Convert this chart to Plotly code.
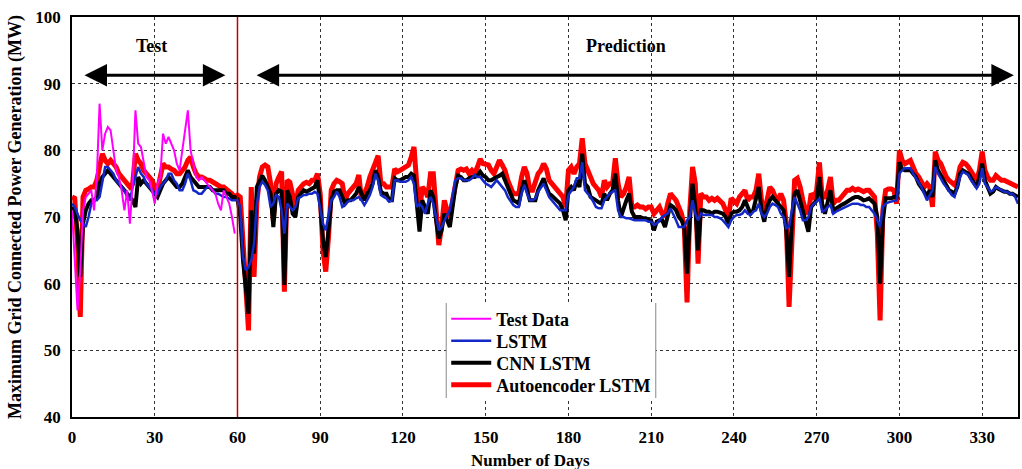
import plotly.graph_objects as go

# ---------------- data ----------------
test_data = [
    71, 64, 56, 62, 71, 73, 73.5, 74, 71, 76,
    87, 80, 82.5, 83.5, 83, 80, 77, 76, 74, 71,
    74, 69, 75, 86, 81, 80.5, 78, 76, 75.5, 74,
    72, 75, 76, 82.5, 81, 82, 81, 80, 78, 77,
    80, 83, 86, 80, 78, 76, 75.5, 76, 75.5, 75,
    74.5, 74, 73.5, 72, 71, 74, 73, 72, 70, 67.5,
]

lstm = [
    72, 71.5, 70.5, 69.5, 69, 68.5, 70, 72, 72.5, 72.5,
    73, 75, 77.5, 77.5, 77, 76.5, 75.5, 75, 74.5, 74,
    73, 72.5, 74.5, 76, 77.5, 76.5, 76, 75, 74.5, 74,
    73.5, 73.5, 74.5, 75, 75.5, 76.5, 76.5, 75.5, 75, 74,
    74, 75, 76.5, 75.5, 74, 73.8, 73.5, 73.5, 74, 74.5,
    74.5, 74, 73.5, 73.5, 73.2, 73, 73, 72.8, 72.5, 72.5,
    72.5, 71.5, 64, 62, 62.5, 63.5, 66, 72, 74.5, 75.3,
    74.8, 74, 71.5, 72, 73.3, 73, 71, 67.5, 72, 71.5,
    71, 71.5, 72.8, 73, 73.3, 73.3, 73.5, 73.5, 73.8, 73.5,
    71.5, 69, 68, 70, 72.5, 73, 73.8, 73, 71.5, 71.8,
    72.3, 72.5, 72.5, 72.8, 73, 72.5, 71.8, 72.5, 73.3, 74.5,
    76.5, 75.5, 73.3, 73, 72.8, 72.3, 72.5, 75.5, 75.5, 75.3,
    75.3, 75.3, 75.5, 76, 75, 71.5, 72, 71.5, 70.5, 72,
    73, 72, 70, 68, 68.5, 69.5, 70.3, 71, 73.5, 75.5,
    75.8, 75.8, 75.5, 75.5, 75.5, 75.8, 76.3, 76, 76, 75.5,
    75, 74.8, 74.5, 75, 75.5, 75, 74.5, 74, 73, 72.3,
    71.8, 71.5, 71.5, 73.5, 74.8, 73.5, 72.5, 72.5, 72.8, 73.8,
    74.5, 75, 74, 73, 72.5, 72, 71.5, 71, 71, 71,
    73.3, 74, 74.5, 75.8, 75.8, 78.2, 74, 73.5, 73, 72.3,
    71.5, 71.3, 71.3, 72.5, 73, 73.5, 73.8, 74, 71, 70,
    70, 69.8, 69.8, 69.6, 69.5, 69.5, 69.5, 69.5, 69.5, 69.3,
    69.3, 68.8, 69, 69.5, 70, 70.3, 70.5, 71.3, 70.5, 69.5,
    68.5, 68.5, 68.5, 69.5, 70, 72.5, 70.5, 69.5, 70.5, 70.3,
    70.3, 70.3, 70.3, 70, 70, 69.8, 69.5, 69, 68.5, 69.5,
    70, 70.3, 70.3, 70.5, 71, 70.5, 70.3, 70.8, 71, 72,
    70.5, 70, 70.5, 71.5, 72, 71.8, 71.5, 70.5, 70, 68.3,
    68.5, 71, 73, 72, 71, 69.5, 69.5, 70, 71.5, 72,
    72.3, 72.8, 70.8, 71, 71.5, 71.8, 70.5, 70.8, 71, 71.2,
    71.3, 71.5, 71.8, 72, 72, 72, 71.8, 71.8, 71.5, 71.5,
    71, 70.5, 69.5, 68.5, 71.5, 72, 72.2, 72.3, 72.5, 72.5,
    76.5, 77, 77.3, 77.3, 77.3, 76.5, 75.8, 75, 74.5, 73.5,
    72.5, 73.3, 74, 77.5, 76.5, 75.8, 75, 74.5, 73.8, 73.3,
    73, 74.5, 76, 76.8, 76.5, 76.3, 75.5, 74.8, 74.3, 75,
    77.3, 75, 74.5, 73.8, 74, 74.5, 74.3, 74, 73.8, 73.8,
    73.5, 73.5, 73, 72,
]

cnn_lstm = [
    71.5, 71, 68, 61, 69, 71, 72, 72.5, 72.5, 73,
    75, 76, 76.5, 77, 76.5, 76, 75.5, 75, 74.5, 74,
    73.5, 73, 72.5, 71.5, 76, 75, 75.5, 75, 74.5, 74,
    73.5, 73, 74, 75, 75.5, 76, 75.5, 75, 74.5, 74.5,
    75, 76, 77, 76, 75.5, 75, 74.5, 74.5, 74.5, 74.5,
    74.5, 74, 74, 74, 74, 74, 73.5, 73.5, 73, 73,
    72.7, 70, 63.5, 59, 55.5, 71, 64.5, 74.5, 75.5, 76.2,
    75.5, 74.5, 73.5, 68.5, 73.5, 74, 73.8, 59.8, 74, 73,
    70.5, 70, 73, 73.5, 74, 73.8, 74, 74.2, 74.5, 75.5,
    72, 66.5, 64, 68, 72.5, 73.8, 74, 74, 73, 72,
    72.5, 72.5, 73, 73.5, 74.5, 73.5, 72.5, 73.5, 74, 75,
    77, 76, 73.8, 73.5, 73.5, 72.5, 72.5, 75.8, 75.5, 75.5,
    75.8, 76, 76, 76.5, 76.2, 72, 67.8, 72.5, 71.5, 70.5,
    74, 73, 69.5, 66.8, 68, 70.5, 69.5, 68.5, 71.5, 74.5,
    76.2, 76, 75.5, 75.5, 75.8, 76, 76, 76.2, 76.8, 76.2,
    76, 75.5, 75.5, 75.8, 76, 76.2, 76.5, 75.5, 74.5, 73.5,
    72.5, 72.3, 72, 74, 75.5, 74, 72.5, 72.5, 72.5, 74,
    75, 75.8, 74.5, 73.5, 73.2, 72.8, 72.5, 72, 71, 69.5,
    74, 74.5, 74, 75.5, 74.5, 79.5, 75, 74.5, 73, 72.8,
    72.5, 72.2, 72, 73.5, 72.5, 73.5, 74, 76.5, 72.5, 70,
    71.5, 72.5, 73.5, 70.8, 70, 70, 70, 69.8, 69.8, 69.6,
    69.5, 68, 69.3, 69.5, 69.5, 68.5, 70.3, 71.8, 71.5, 71,
    70, 69.5, 68.5, 61.5, 69.5, 75, 71.5, 65, 71, 71,
    70.8, 70.8, 70.5, 70.8, 70.8, 70.6, 70.5, 70, 69, 70.5,
    70.8, 70.8, 71, 71.5, 72.5, 71.5, 70.5, 71, 72.5, 74.5,
    71, 69.3, 71.5, 72.5, 73, 72.5, 72, 71.5, 71, 68,
    61, 69.5, 73.5, 74, 72.5, 71, 69.5, 67.8, 71.5, 72,
    72.5, 76, 72, 70.5, 72.5, 74, 71, 71.3, 71.5, 71.8,
    72, 72.3, 72.5, 72.8, 73, 73, 72.8, 72.5, 72.6, 72.8,
    72.4, 72, 70, 60, 69.5, 72.8, 72.8, 72.8, 73, 73,
    78.2, 77.2, 77, 77, 77, 76.5, 76, 75, 74.5, 73.8,
    73.2, 74, 73, 78.5, 77, 76.2, 75.5, 74.8, 74, 73.8,
    73.5, 74.5, 76.5, 77, 76.8, 76.5, 75.8, 75, 74.5, 76,
    78, 75.5, 74.5, 73.5, 73.8, 74.5, 74.2, 74, 73.8, 73.8,
    73.5, 73.5, 73.2, 73,
]

autoencoder_lstm = [
    73, 72.8, 66, 55, 73, 74, 74.2, 74.5, 74.5, 75.5,
    77.5, 79.5, 78.5, 78, 78.5, 78, 77.5, 76.5, 76, 75.5,
    75, 74.5, 75, 79.5, 78.5, 78, 77, 76.5, 76, 75.5,
    74.5, 74, 76, 78, 77.5, 77.5, 77.2, 77, 76.5, 76.5,
    77, 77.5, 78.5, 79, 77.5, 76.5, 76, 76, 75.8, 75.5,
    75.5, 75.2, 75, 74.8, 74.5, 74.5, 74.2, 74, 73.5, 73,
    73.3, 73, 65.5, 59, 53, 74.5, 61, 72, 76, 77.5,
    77.8, 77.5, 75, 69.5, 75, 76, 76.8, 58.8, 75.5, 75.2,
    73, 71.5, 74, 74.5, 75, 75.2, 75, 75.5, 75.5, 76.5,
    73.5, 65, 61.8, 67, 74, 75, 75.5, 75.3, 75, 72.5,
    73.5, 74, 74.5, 75, 76.3, 72.5, 73.5, 74.5, 76, 77,
    78, 79.2, 75, 75, 74.5, 74.5, 74.5, 77.2, 76.8, 77,
    77.2, 77.5, 77.8, 79, 80.5, 75, 70.5, 74.5, 74, 73,
    76.5, 76.5, 72, 65.8, 68.5, 72.5, 71, 70, 72.5, 75,
    77, 77.2, 77, 77.2, 76.5, 77, 76.5, 77.5, 78.7, 78,
    77.8, 77.8, 77, 76.5, 77.5, 78.5, 77.8, 77, 75.5, 74.5,
    73.5, 73.5, 73.5, 76, 77.5, 76.5, 74, 74, 75.5, 76.5,
    77, 78, 77.2, 75.5, 75, 74.5, 74, 73.5, 73, 71.5,
    77, 77.5, 76.5, 77.5, 78, 81.8, 78, 77, 76, 75,
    74.5, 74, 73, 75.5, 74.5, 75, 75, 78.8, 75, 73,
    73.5, 74.5, 76, 71.5, 71.5, 71.8, 71.5, 71.5, 71.2, 71.5,
    71.5, 70.5, 71, 71.5, 70.5, 70, 72, 73.5, 73, 72.5,
    71.5, 70.5, 68.5, 57.2, 71, 77.5, 75, 63, 73.5, 73,
    73, 72.5, 72.8, 72.5, 72.8, 72.5, 72, 71, 70, 72.8,
    72.5, 72, 73, 73.5, 74, 72.5, 73, 73, 74, 76.5,
    72.5, 70.5, 73, 74.5, 74, 73, 72.5, 73.5, 72.5, 69,
    56.5, 68, 75.5, 75.8, 74.5, 72.5, 71, 70.5, 73.5, 73,
    74, 78.2, 73, 73, 74, 76, 72, 72.5, 72.5, 73,
    73.5, 74, 74, 74.3, 74, 74.2, 74, 73.8, 74, 74,
    73.5, 73, 67.5, 54.5, 71, 74, 74.2, 74.2, 74, 72,
    80, 78.5, 78, 78.2, 78.5, 77.5, 76.5, 76, 75.2, 74.5,
    75, 74.5, 71.5, 79.8, 78.5, 78, 77, 76, 75.5, 75.2,
    74.8, 75.5, 77.5, 78.2, 78, 77.5, 76.8, 76, 75.5, 77,
    79.8, 77, 76, 75.5, 75.5, 76.2, 75.8, 75.5, 75.5, 75.3,
    75, 75, 74.8, 74.5,
]

x_ticks = [0, 30, 60, 90, 120, 150, 180, 210, 240, 270, 300, 330]
y_ticks = [40, 50, 60, 70, 80, 90, 100]
split_day = 60

FONT = "Liberation Serif"

# plot-area geometry in pixels (used only for paper-coordinate placement)
L, R, T, B = 72, 1020, 17, 417
def px_x(p):
    return (p - L) / (R - L)
def px_y(p):
    return (B - p) / (B - T)

fig = go.Figure()

# legend background box (white, gray side borders)
fig.add_shape(type="rect", xref="paper", yref="paper",
              x0=px_x(447), x1=px_x(657), y0=px_y(398), y1=px_y(303),
              fillcolor="white", line=dict(width=0), layer="above")
for p in [447, 657]:
    fig.add_shape(type="line", xref="paper", yref="paper", x0=px_x(p), x1=px_x(p),
                  y0=px_y(398), y1=px_y(303), line=dict(color="#888888", width=1),
                  layer="above")

series = [
    ("Autoencoder LSTM", autoencoder_lstm, "#ff0000", 5, "legend4"),
    ("CNN LSTM", cnn_lstm, "#000000", 4, "legend3"),
    ("LSTM", lstm, "#1428c8", 2.5, "legend2"),
    ("Test Data", test_data, "#ff00ff", 2, "legend"),
]
for name, vals, col, w, lg in series:
    fig.add_trace(go.Scatter(
        x=list(range(len(vals))), y=vals, mode="lines", name=name,
        line=dict(color=col, width=w), legend=lg,
    ))

# vertical split line
fig.add_shape(type="line", x0=split_day, x1=split_day, y0=40, y1=100,
              xref="x", yref="y", line=dict(color="#c00000", width=1.5))

# double-headed arrows
for x0, x1 in [(4, 55.6), (66.4, 341.5)]:
    fig.add_annotation(x=x1, y=91.25, ax=x0, ay=91.25, xref="x", yref="y",
                       axref="x", ayref="y", text="", showarrow=True,
                       arrowhead=2, arrowside="end+start", arrowwidth=3,
                       arrowsize=1.5, arrowcolor="black", standoff=0, startstandoff=0)

fig.add_annotation(x=29, y=95.6, text="<b>Test</b>", showarrow=False,
                   xref="x", yref="y", font=dict(family=FONT, size=18, color="black"))
fig.add_annotation(x=201, y=95.6, text="<b>Prediction</b>", showarrow=False,
                   xref="x", yref="y", font=dict(family=FONT, size=18, color="black"))

# x-axis title
fig.add_annotation(x=px_x(531), y=px_y(460), xref="paper", yref="paper",
                   xanchor="center", yanchor="middle",
                   text="<b>Number of Days</b>", showarrow=False,
                   font=dict(family=FONT, size=17, color="black"))

axis_common = dict(
    showline=True, linecolor="black", linewidth=1.5, mirror=True,
    showgrid=True, gridcolor="#333333", griddash="dot", gridwidth=1,
    zeroline=False, ticks="",
    tickfont=dict(family=FONT, size=17, color="black", weight="bold"),
)

fig.update_xaxes(range=[0, 343], tickvals=x_ticks, ticklabelstandoff=4, **axis_common)
fig.update_yaxes(range=[40, 100], tickvals=y_ticks,
                 title=dict(text="<b>Maximum Grid Connected Power Generation (MW)</b>", standoff=9,
                            font=dict(family=FONT, size=18, color="black")),
                 ticklabelstandoff=6, **axis_common)

leg_font = dict(family=FONT, size=18, color="black", weight="bold")
legend_common = dict(x=px_x(447), xanchor="left", yanchor="middle",
                     bgcolor="rgba(0,0,0,0)", borderwidth=0, font=leg_font, itemwidth=40)

fig.update_layout(
    width=1022, height=469,
    margin=dict(l=L, r=1022 - R, t=T, b=469 - B),
    plot_bgcolor="white", paper_bgcolor="white",
    showlegend=True,
    legend=dict(y=px_y(319), **legend_common),
    legend2=dict(y=px_y(341), **legend_common),
    legend3=dict(y=px_y(363), **legend_common),
    legend4=dict(y=px_y(385), **legend_common),
)

fig.write_html("out.html")
